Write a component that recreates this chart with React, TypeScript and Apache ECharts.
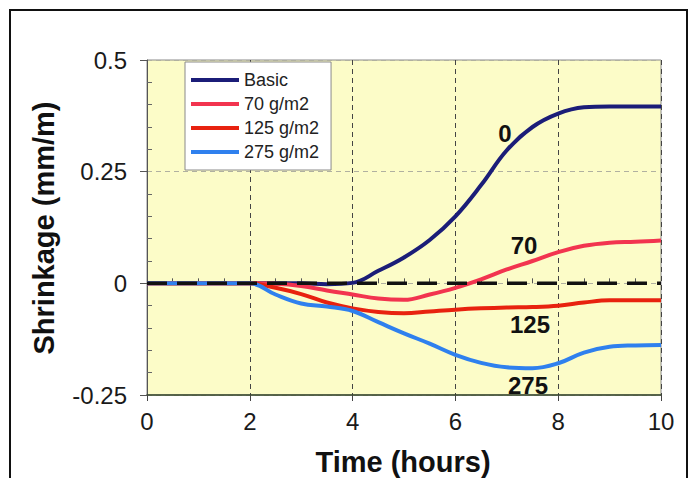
import React, { useEffect, useRef } from "react";
import * as echarts from "echarts";

// time (hours)
const hours = [0, 0.5, 1, 1.5, 2, 2.5, 3, 3.5, 4, 4.5, 5, 5.5, 6, 6.5, 7, 7.5, 8, 8.5, 9, 9.5, 10];
// shrinkage (mm/m)
const basic = [0, 0, 0, 0, 0, 0, 0, -0.002, 0.001, 0.028, 0.058, 0.097, 0.15, 0.22, 0.298, 0.35, 0.38, 0.394, 0.396, 0.396, 0.396];
const g70 = [0, 0, 0, 0, 0, -0.001, -0.006, -0.016, -0.025, -0.034, -0.037, -0.025, -0.01, 0.009, 0.031, 0.05, 0.07, 0.084, 0.091, 0.093, 0.096];
const g125 = [0, 0, 0, 0, 0, -0.01, -0.024, -0.043, -0.056, -0.064, -0.067, -0.063, -0.059, -0.056, -0.054, -0.053, -0.05, -0.043, -0.038, -0.038, -0.038];
const g275 = [0, 0, 0, 0, 0, -0.025, -0.045, -0.052, -0.062, -0.087, -0.112, -0.135, -0.16, -0.178, -0.188, -0.19, -0.179, -0.155, -0.142, -0.139, -0.138];
const zeroLine = [0, 0];
const zeroX = [0, 10];

const seriesNames = ["Basic", "70 g/m2", "125 g/m2", "275 g/m2"];
const seriesColors = ["#1b1d78", "#f2344f", "#e8220f", "#2f80ee"];
const curveLabels = ["0", "70", "125", "275"];

const FONT = "Liberation Sans, Arial, Helvetica, sans-serif";

export default function App() {
  const ref = useRef<HTMLDivElement>(null);
  useEffect(() => {
    if (!ref.current) return;
    const chart = echarts.init(ref.current, null, { renderer: "svg" });
    const values = [basic, g70, g125, g275];
    const series: any[] = values.map((v, i) => ({
      name: seriesNames[i],
      type: "line",
      xAxisIndex: 0,
      yAxisIndex: 0,
      data: hours.map((h, k) => [h, v[k]]),
      color: seriesColors[i],
      showSymbol: false,
      smooth: 0.4,
      lineStyle: { width: 4, color: seriesColors[i] },
    }));
    series.push({
      name: "zero",
      type: "line",
      data: zeroX.map((x, k) => [x, zeroLine[k]]),
      showSymbol: false,
      lineStyle: { width: 3.5, color: "#111", type: [20, 10] },
      z: 5,
    });

    const labelPos = [
      [505, 133],
      [524, 245],
      [530, 324],
      [528, 385],
    ];

    chart.setOption({
      animation: false,
      backgroundColor: "#ffffff",
      grid: {
        left: 147,
        right: 28,
        top: 60,
        bottom: 83,
        show: true,
        backgroundColor: "#fcfcc8",
        borderColor: "#8a8a8a",
        borderWidth: 1,
      },
      legend: {
        data: seriesNames,
        left: 185,
        top: 62,
        orient: "vertical",
        icon: "rect",
        itemWidth: 48,
        itemHeight: 4,
        itemGap: 6,
        itemStyle: { borderWidth: 0 },
        backgroundColor: "#ffffff",
        borderColor: "#8a8a8a",
        borderWidth: 1,
        borderRadius: 0,
        padding: [9, 12, 9, 6],
        textStyle: { fontSize: 18, lineHeight: 17, fontFamily: FONT, color: "#222" },
      },
      xAxis: [
        {
          type: "value",
          min: 0,
          max: 10,
          interval: 2,
          axisLine: { show: true, onZero: false, lineStyle: { color: "#34462a", width: 1.5 } },
          axisTick: { show: true, length: 6, lineStyle: { color: "#444" } },
          axisLabel: { fontSize: 24, fontFamily: FONT, color: "#1a1a1a", margin: 14 },
          splitLine: { show: true, lineStyle: { color: "#444", width: 1, type: [5, 4] } },
        },
        {
          type: "value",
          min: 0,
          max: 10,
          interval: 2,
          position: "bottom",
          axisLine: { show: false },
          axisTick: { show: false, inside: true },
          axisLabel: { show: false },
          splitLine: { show: false },
          minorTick: { show: true, splitNumber: 4, length: 5, lineStyle: { color: "#555" } },
        },
      ],
      yAxis: [
        {
          type: "value",
          min: -0.25,
          max: 0.5,
          interval: 0.25,
          axisLine: { show: true, onZero: false, lineStyle: { color: "#555", width: 1 } },
          axisTick: { show: true, length: 7, lineStyle: { color: "#555" } },
          axisLabel: {
            fontSize: 24,
            fontFamily: FONT,
            color: "#1a1a1a",
            margin: 20,
            formatter: (v: number) => String(Math.round(v * 100) / 100),
          },
          splitLine: { show: true, lineStyle: { color: "#b0b0a0", width: 1, type: [5, 4] } },
        },
        {
          type: "value",
          min: -0.25,
          max: 0.5,
          interval: 0.25,
          position: "left",
          axisLine: { show: false },
          axisTick: { show: false, inside: true },
          axisLabel: { show: false },
          splitLine: { show: false },
          minorTick: { show: true, splitNumber: 5, length: 5, lineStyle: { color: "#666" } },
        },
      ],
      series,
      graphic: [
        {
          type: "rect",
          shape: { x: 10, y: 10, width: 677, height: 490 },
          style: { fill: "none", stroke: "#111", lineWidth: 2 },
          silent: true,
        },
        {
          type: "text",
          x: 403,
          y: 462,
          style: {
            text: "Time (hours)",
            font: `bold 29px ${FONT}`,
            fill: "#111",
            textAlign: "center",
            textVerticalAlign: "middle",
          },
        },
        {
          type: "text",
          x: 44,
          y: 228,
          rotation: Math.PI / 2,
          style: {
            text: "Shrinkage (mm/m)",
            font: `bold 29px ${FONT}`,
            fill: "#111",
            textAlign: "center",
            textVerticalAlign: "middle",
          },
        },
        ...curveLabels.map((t, i) => ({
          type: "text",
          x: labelPos[i][0],
          y: labelPos[i][1],
          z: 10,
          style: {
            text: t,
            font: `bold 24px ${FONT}`,
            fill: "#111",
            textAlign: "center",
            textVerticalAlign: "middle",
          },
        })),
      ],
    });
    return () => chart.dispose();
  }, []);
  return (
    <div
      ref={ref}
      style={{ position: "fixed", left: 0, top: 0, width: 689, height: 478 }}
    />
  );
}
